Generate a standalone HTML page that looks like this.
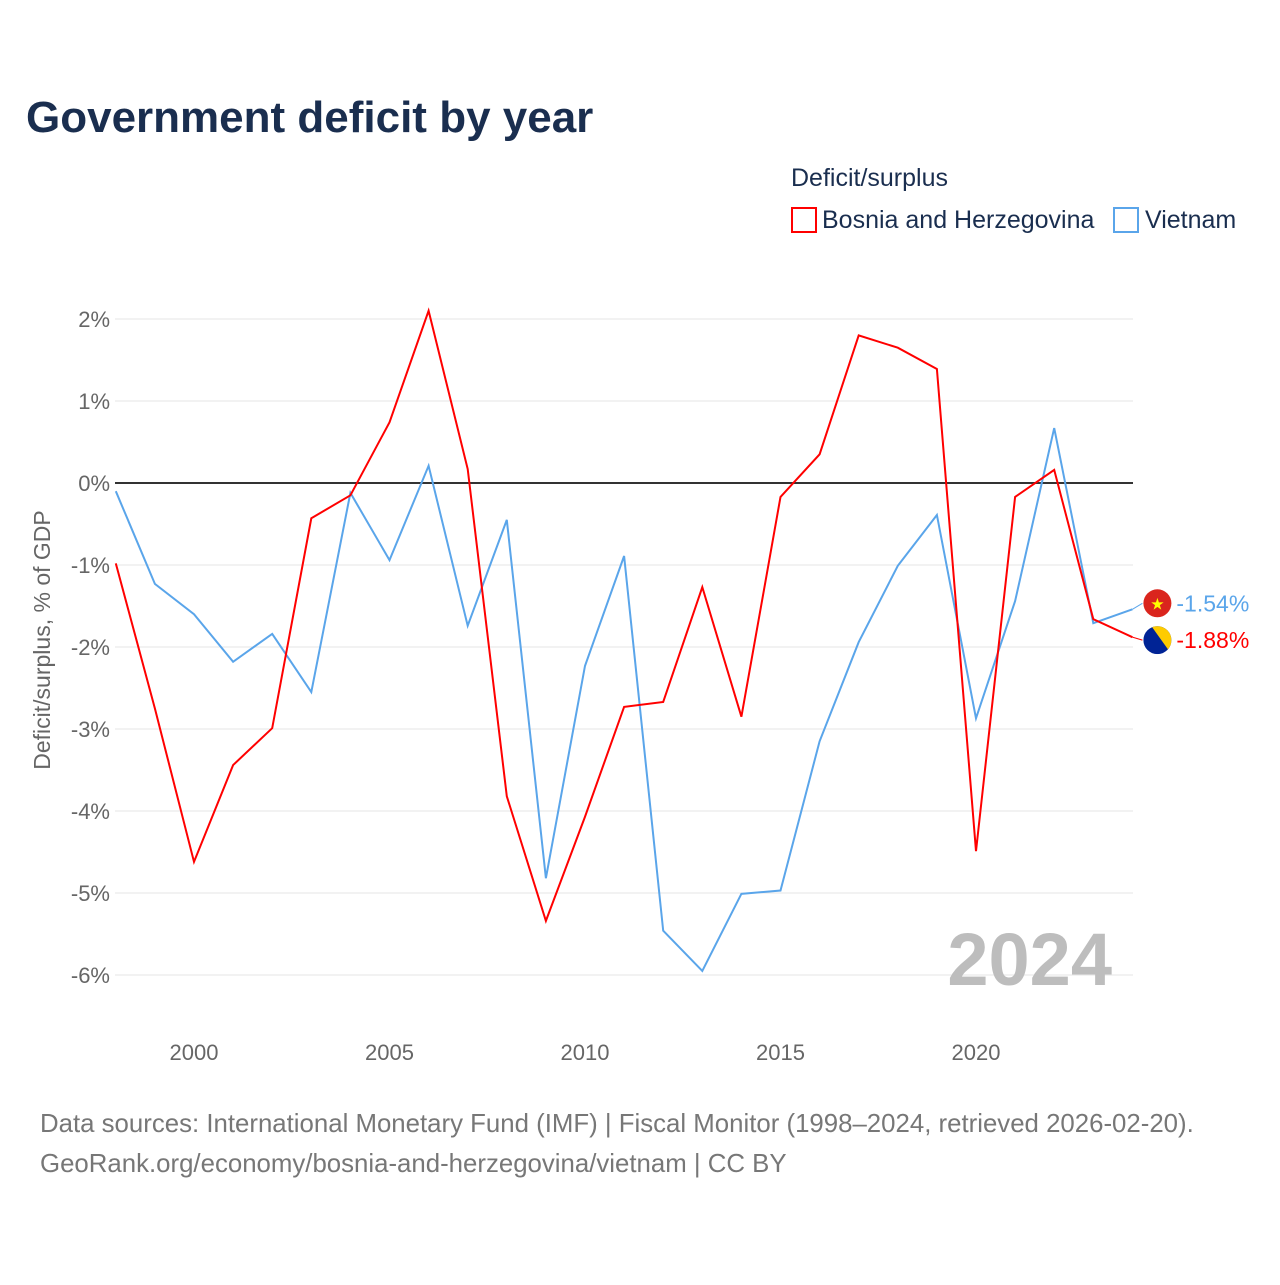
<!DOCTYPE html>
<html><head><meta charset="utf-8"><style>
body{margin:0;background:#fff;font-family:"Liberation Sans",sans-serif}
</style></head><body>
<svg width="1280" height="1280" xmlns="http://www.w3.org/2000/svg" font-family="'Liberation Sans',sans-serif">
<text x="26" y="132" font-size="44" font-weight="bold" fill="#1a2e4f">Government deficit by year</text>
<text x="791" y="186" font-size="25" fill="#1a2e4f">Deficit/surplus</text>
<g><rect x="792" y="208" width="24" height="24" fill="none" stroke="#f00" stroke-width="2"/><text x="822" y="228" font-size="25" fill="#1a2e4f">Bosnia and Herzegovina</text></g>
<g><rect x="1114" y="208" width="24" height="24" fill="none" stroke="#5aa5ea" stroke-width="2"/><text x="1145" y="228" font-size="25" fill="#1a2e4f">Vietnam</text></g>
<g id="grid"></g><g id="ylab"></g><g id="xlab"></g><g id="lines"></g>
<text x="1112" y="985" font-size="74" font-weight="bold" fill="#bdbdbd" text-anchor="end">2024</text>
<text transform="translate(50,640) rotate(-90)" font-size="23" fill="#666" text-anchor="middle">Deficit/surplus, % of GDP</text>
<text x="40" y="1132" font-size="25.8" fill="#777">Data sources: International Monetary Fund (IMF) | Fiscal Monitor (1998–2024, retrieved 2026-02-20).</text>
<text x="40" y="1172" font-size="25.8" fill="#777">GeoRank.org/economy/bosnia-and-herzegovina/vietnam | CC BY</text>
</svg>
<script>
const years=[1998,1999,2000,2001,2002,2003,2004,2005,2006,2007,2008,2009,2010,2011,2012,2013,2014,2015,2016,2017,2018,2019,2020,2021,2022,2023,2024];
const bosnia=[-0.98,-2.75,-4.62,-3.44,-2.99,-0.43,-0.15,0.74,2.1,0.17,-3.82,-5.34,-4.07,-2.73,-2.67,-1.27,-2.85,-0.17,0.35,1.8,1.65,1.39,-4.49,-0.17,0.16,-1.66,-1.88];
const vietnam=[-0.1,-1.23,-1.6,-2.18,-1.84,-2.55,-0.12,-0.94,0.21,-1.74,-0.45,-4.82,-2.23,-0.89,-5.46,-5.95,-5.01,-4.97,-3.15,-1.94,-1.01,-0.39,-2.87,-1.44,0.67,-1.71,-1.54];
const yTicks=[2,1,0,-1,-2,-3,-4,-5,-6];
const xTicks=[2000,2005,2010,2015,2020];
const NS="http://www.w3.org/2000/svg";
const X=y=>115.8+(y-1998)*39.1, Y=v=>483-v*82;
function mk(t,a,p){const e=document.createElementNS(NS,t);for(const k in a)e.setAttribute(k,a[k]);document.getElementById(p).appendChild(e);return e;}
yTicks.forEach(v=>{
 const l=mk('line',{x1:115,x2:1133,y1:Y(v),y2:Y(v),stroke:v===0?'#333':'#e6e6e6','stroke-width':v===0?2:1},'grid');
 
 
 const t=mk('text',{x:110,y:Y(v)+8,'font-size':22,fill:'#666','text-anchor':'end'},'ylab');t.textContent=v+'%';
 
 
});
xTicks.forEach(y=>{
 const t=mk('text',{x:X(y),y:1060,'font-size':22,fill:'#666','text-anchor':'middle'},'xlab');t.textContent=y;
 
 
});
function series(d,c,name){
 const p=mk('polyline',{points:d.map((v,i)=>X(years[i])+','+Y(v)).join(' '),fill:'none',stroke:c,'stroke-width':2},'lines');
 
 
}
series(vietnam,'#5aa5ea','vietnam-line');
series(bosnia,'#f00','bosnia-line');
function endLabel(v,c,name,flag,dy){
 const yy=Y(v)+dy, x0=X(2024);
 const g=mk('g',{},'lines');
 
 
 const ln=document.createElementNS(NS,'line');
 [['x1',x0],['y1',Y(v)],['x2',x0+10],['y2',yy],['stroke',c],['stroke-width',1]].forEach(a=>ln.setAttribute(a[0],a[1]));g.appendChild(ln);
 const cc=document.createElementNS(NS,'g');cc.innerHTML=flag(x0+25,yy);g.appendChild(cc);
 const t=document.createElementNS(NS,'text');
 [['x',x0+44],['y',yy+8],['font-size',23],['fill',c]].forEach(a=>t.setAttribute(a[0],a[1]));t.textContent=v.toFixed(2)+'%';g.appendChild(t);
}
endLabel(-1.54,'#5aa5ea','vietnam-end-label',(x,y)=>`<circle cx="${x}" cy="${y}" r="14" fill="#da251d"/><text x="${x}" y="${y+6}" font-size="16" fill="#ff0" text-anchor="middle">★</text>`,-6);
endLabel(-1.88,'#f00','bosnia-end-label',(x,y)=>`<clipPath id="cb"><circle cx="${x}" cy="${y}" r="14"/></clipPath><g clip-path="url(#cb)"><rect x="${x-14}" y="${y-14}" width="28" height="28" fill="#002395"/><polygon points="${x-6},${y-14} ${x+14},${y-14} ${x+14},${y+14}" fill="#fecb00"/></g>`,3);
</script>
</body></html>
